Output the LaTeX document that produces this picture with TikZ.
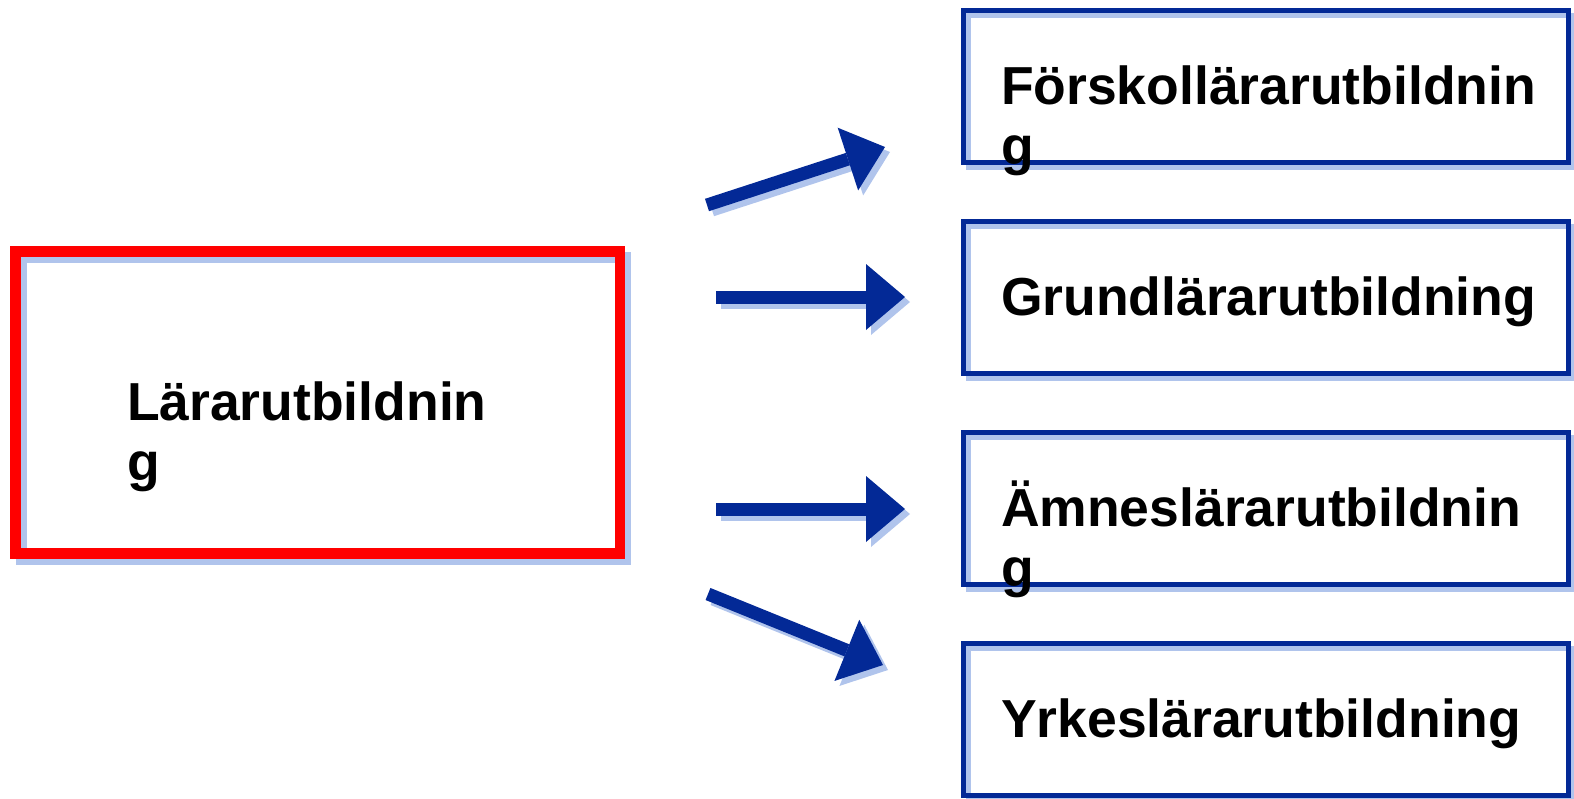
\documentclass[tikz,border=0pt]{standalone}
\usepackage{fontspec}
\setmainfont{Liberation Sans}
\usetikzlibrary{arrows.meta,shadows}
\definecolor{dkblue}{RGB}{3,41,150}
\definecolor{shblue}{RGB}{176,196,236}
\definecolor{myred}{RGB}{255,0,0}
\begin{document}
\begin{tikzpicture}[x=1pt,y=-1pt,
  lbl/.style={anchor=base west, inner sep=0pt, outer sep=0pt, font=\fontsize{53.5}{60}\selectfont\bfseries},
  boxbase/.style={rectangle, inner sep=0pt, outer sep=0pt, minimum width=605pt},
  bluebox/.style={boxbase, minimum height=152pt, draw=dkblue, line width=5pt,
    drop shadow={opacity=1, fill=none, draw=shblue, line width=5pt, shadow xshift=5pt, shadow yshift=-5pt}},
  redbox/.style={boxbase, minimum width=604.5pt, minimum height=302pt, draw=myred, line width=10.5pt,
    drop shadow={opacity=1, fill=none, draw=shblue, line width=10.5pt, shadow xshift=6pt, shadow yshift=-6pt}},
  arr/.style={draw=dkblue, line width=13pt, -{Triangle[length=39pt,width=66pt,line width=0pt]}},
  sharr/.style={draw=shblue, line width=13pt, -{Triangle[length=39pt,width=66pt,line width=0pt]}},
]
\useasboundingbox (0,0) rectangle (1574,798);

% boxes
\node[redbox] (main) at (317.75,402.5) {};
\node[bluebox] (b1) at (1266,86) {};
\node[bluebox] (b2) at (1266,297) {};
\node[bluebox] (b3) at (1266,508) {};
\node[bluebox] (b4) at (1266,719) {};

% texts
\node[lbl] (t0) at (127,420) {\begin{tabular}[t]{@{}l@{}}Lärarutbildnin\\g\end{tabular}};
\node[lbl] (t1) at (1001,104) {\begin{tabular}[t]{@{}l@{}}Förskollärarutbildnin\\g\end{tabular}};
\node[lbl] (t2) at (1001,315) {Grundlärarutbildning};
\node[lbl] (t3) at (1001,526) {\begin{tabular}[t]{@{}l@{}}Ämneslärarutbildnin\\g\end{tabular}};
\node[lbl] (t4) at (1001,737) {Yrkeslärarutbildning};

% arrow end points
\coordinate (a1s) at (707,205);
\coordinate (a1e) at (885,147);
\coordinate (a2s) at (716,297);
\coordinate (a2e) at (905,297);
\coordinate (a3s) at (716,509);
\coordinate (a3e) at (905,509);
\coordinate (a4s) at (708,594);
\coordinate (a4e) at (883,665);

% arrow shadows
\foreach \s/\e in {a1s/a1e,a2s/a2e,a3s/a3e,a4s/a4e}
  \draw[sharr] ([shift={(5,5)}]\s) -- ([shift={(5,5)}]\e);
% arrows
\foreach \s/\e in {a1s/a1e,a2s/a2e,a3s/a3e,a4s/a4e}
  \draw[arr] (\s) -- (\e);
\end{tikzpicture}
\end{document}
